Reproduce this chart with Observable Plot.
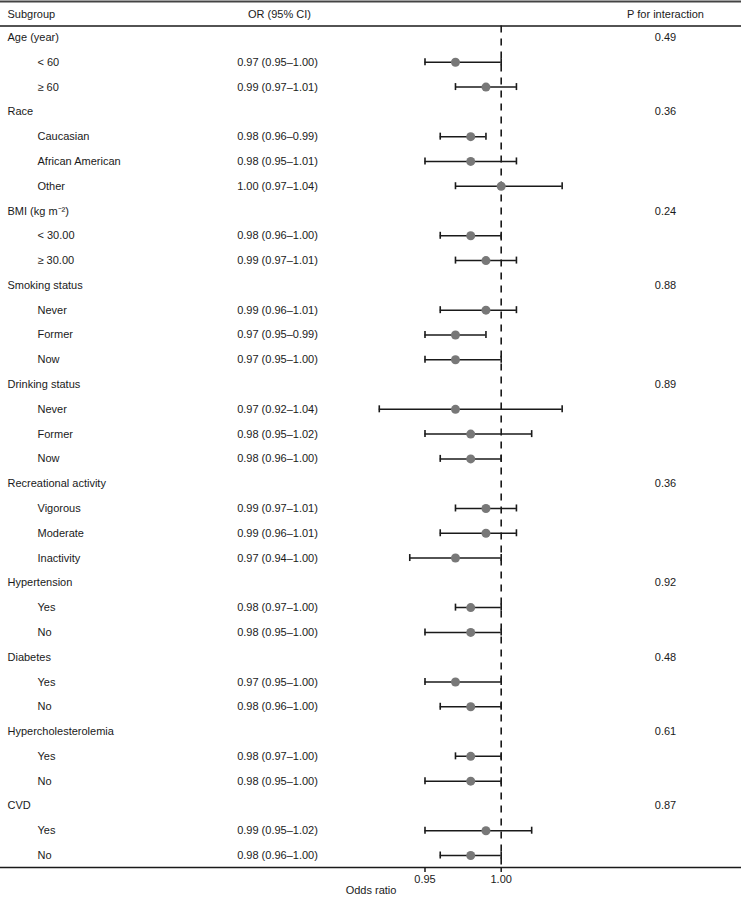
<!DOCTYPE html>
<html>
<head>
<meta charset="utf-8">
<script src="https://cdn.jsdelivr.net/npm/d3@7"></script>
<script src="https://cdn.jsdelivr.net/npm/@observablehq/plot@0.6"></script>
<style>
  html, body { margin: 0; padding: 0; background: #fff; }
  #chart svg { display: block; }
</style>
</head>
<body>
<div id="chart"></div>
<script>
// ---- data ----
const labels = [
  "Age (year)", "< 60", "\u2265 60",
  "Race", "Caucasian", "African American", "Other",
  "BMI (kg m\u207B\u00B2)", "< 30.00", "\u2265 30.00",
  "Smoking status", "Never", "Former", "Now",
  "Drinking status", "Never", "Former", "Now",
  "Recreational activity", "Vigorous", "Moderate", "Inactivity",
  "Hypertension", "Yes", "No",
  "Diabetes", "Yes", "No",
  "Hypercholesterolemia", "Yes", "No",
  "CVD", "Yes", "No"
];
// 0 = group heading, 1 = subgroup
const level = [
  0, 1, 1,
  0, 1, 1, 1,
  0, 1, 1,
  0, 1, 1, 1,
  0, 1, 1, 1,
  0, 1, 1, 1,
  0, 1, 1,
  0, 1, 1,
  0, 1, 1,
  0, 1, 1
];
const oddsRatio = [
  null, 0.97, 0.99,
  null, 0.98, 0.98, 1.00,
  null, 0.98, 0.99,
  null, 0.99, 0.97, 0.97,
  null, 0.97, 0.98, 0.98,
  null, 0.99, 0.99, 0.97,
  null, 0.98, 0.98,
  null, 0.97, 0.98,
  null, 0.98, 0.98,
  null, 0.99, 0.98
];
const ciLow = [
  null, 0.95, 0.97,
  null, 0.96, 0.95, 0.97,
  null, 0.96, 0.97,
  null, 0.96, 0.95, 0.95,
  null, 0.92, 0.95, 0.96,
  null, 0.97, 0.96, 0.94,
  null, 0.97, 0.95,
  null, 0.95, 0.96,
  null, 0.97, 0.95,
  null, 0.95, 0.96
];
const ciHigh = [
  null, 1.00, 1.01,
  null, 0.99, 1.01, 1.04,
  null, 1.00, 1.01,
  null, 1.01, 0.99, 1.00,
  null, 1.04, 1.02, 1.00,
  null, 1.01, 1.01, 1.00,
  null, 1.00, 1.00,
  null, 1.00, 1.00,
  null, 1.00, 1.00,
  null, 1.02, 1.00
];
const pInteraction = [
  "0.49", "", "",
  "0.36", "", "", "",
  "0.24", "", "",
  "0.88", "", "", "",
  "0.89", "", "", "",
  "0.36", "", "", "",
  "0.92", "", "",
  "0.48", "", "",
  "0.61", "", "",
  "0.87", "", ""
];
const headers = ["Subgroup", "OR (95% CI)", "P for interaction"];
const xTicks = [0.95, 1.00];
const xLabel = "Odds ratio";

// ---- derived table ----
const f2 = d3.format(".2f");
const rows = labels.map((label, k) => ({
  row: k + 1,
  label,
  level: level[k],
  or: oddsRatio[k],
  lo: ciLow[k],
  hi: ciHigh[k],
  orText: oddsRatio[k] == null ? "" : `${f2(oddsRatio[k])} (${f2(ciLow[k])}\u2013${f2(ciHigh[k])})`,
  p: pInteraction[k]
}));
const est = rows.filter(d => d.or != null);
const groups = rows.filter(d => d.level === 0);
const subs = rows.filter(d => d.level === 1);

const ink = "#1a1a1a";

const chart = Plot.plot({
  width: 741,
  height: 897,
  marginLeft: 0,
  marginRight: 0,
  marginTop: 0,
  marginBottom: 30,
  style: { fontFamily: "'Liberation Sans', Arial, Helvetica, sans-serif", fontSize: "11px", background: "#fff", color: ink },
  x: { domain: [0.67146, 1.15768], label: null },
  y: { domain: [1, 34], range: [37, 855], axis: null },
  marks: [
    // table rules
    Plot.ruleY([-0.45], { stroke: "#444", strokeWidth: 2 }),
    Plot.ruleY([0.5], { stroke: ink, strokeWidth: 1.5, dy: 1 }),
    Plot.frame({ anchor: "bottom", stroke: ink, strokeWidth: 1.5 }),
    // reference line at OR = 1
    Plot.ruleX([1], { y1: 0.5, y2: 34.5, stroke: ink, strokeWidth: 1.6, strokeDasharray: "7,6", dy: 1 }),
    // headers
    Plot.text([headers[0]], { frameAnchor: "left", y: 0, dx: 7, dy: 2, textAnchor: "start", fill: ink }),
    Plot.text([headers[1]], { frameAnchor: "left", y: 0, dx: 279, dy: 2, textAnchor: "middle", fill: ink }),
    Plot.text([headers[2]], { frameAnchor: "left", y: 0, dx: 665, dy: 2, textAnchor: "middle", fill: ink }),
    // labels
    Plot.text(groups, { y: "row", text: "label", frameAnchor: "left", dx: 7, textAnchor: "start", fill: ink }),
    Plot.text(subs, { y: "row", text: "label", frameAnchor: "left", dx: 37, textAnchor: "start", fill: ink }),
    Plot.text(est, { y: "row", text: "orText", frameAnchor: "left", dx: 277, textAnchor: "middle", fill: ink }),
    Plot.text(groups, { y: "row", text: "p", frameAnchor: "left", dx: 665, textAnchor: "middle", fill: ink }),
    // CI whiskers
    Plot.ruleY(est, { y: "row", x1: "lo", x2: "hi", stroke: ink, strokeWidth: 1.5 }),
    Plot.ruleX(est, { x: "lo", y1: "row", y2: "row", insetTop: -3.5, insetBottom: -3.5, stroke: ink, strokeWidth: 1.6 }),
    Plot.ruleX(est, { x: "hi", y1: "row", y2: "row", insetTop: -3.5, insetBottom: -3.5, stroke: ink, strokeWidth: 1.6 }),
    Plot.dot(est, { x: "or", y: "row", r: 4.5, fill: "#787878", stroke: "none" }),
    // axis
    Plot.axisX({ ticks: xTicks, tickFormat: ".2f", tickSize: 5, tickPadding: 3, label: null, stroke: ink, strokeWidth: 1.5, fill: ink }),
    Plot.text([xLabel], { frameAnchor: "bottom", dy: 26, fill: ink })
  ]
});
document.getElementById("chart").appendChild(chart);
</script>
</body>
</html>
